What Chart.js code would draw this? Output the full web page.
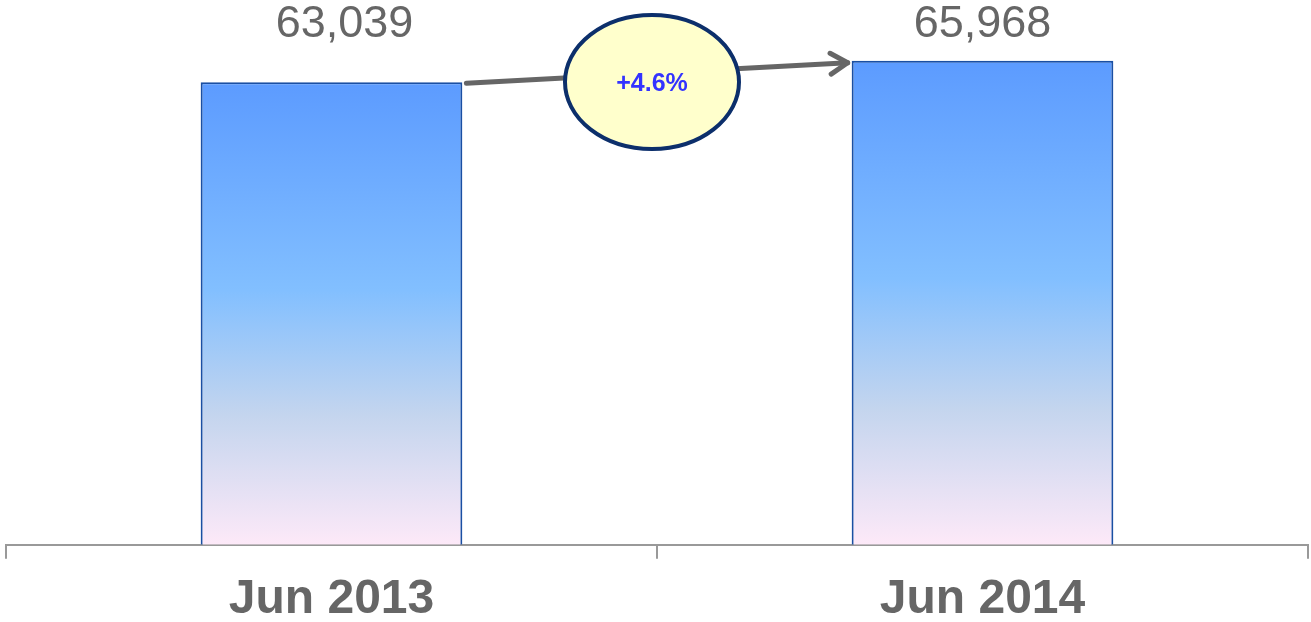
<!DOCTYPE html>
<html>
<head>
<meta charset="utf-8">
<script src="https://cdn.jsdelivr.net/npm/chart.js@4.4.0/dist/chart.umd.min.js"></script>
<style>
  html, body { margin: 0; padding: 0; background: #fff; }
  canvas { display: block; }
</style>
</head>
<body>
<canvas id="myBarChart" width="1311" height="622"></canvas>
<script>
// Headcount at the end of June, year on year
const periods = ['Jun 2013', 'Jun 2014'];
const totals = [63039, 65968];
const axisMax = 74250;

// Vertical fill for each bar, from its own top down to the baseline
function barGradient(context) {
    const chart = context.chart;
    const { ctx, chartArea, scales } = chart;
    if (!chartArea) return '#6aa8ff';
    const top = scales.y.getPixelForValue(context.raw);
    const bottom = scales.y.getPixelForValue(0);
    const g = ctx.createLinearGradient(0, top, 0, bottom);
    g.addColorStop(0, '#5c9bff');
    g.addColorStop(0.45, '#82bfff');
    g.addColorStop(0.72, '#c4d5ee');
    g.addColorStop(1, '#fde9f8');
    return g;
}

// Value text above the bars plus the growth arrow with its badge
const annotations = {
    id: 'annotations',
    afterDatasetsDraw(chart) {
        const ctx = chart.ctx;
        const bars = chart.getDatasetMeta(0).data;
        const top = chart.chartArea.top;

        ctx.save();
        ctx.fillStyle = '#666666';
        ctx.font = '45px "Liberation Sans", Arial, sans-serif';
        ctx.textAlign = 'center';
        ctx.textBaseline = 'alphabetic';
        bars.forEach((bar, i) => {
            const x = i === 0 ? bar.x + 13 : bar.x;
            ctx.fillText(totals[i].toLocaleString('en-US'), x, top + 37);
        });

        // arrow from the first bar's top to the second bar's top
        const a = bars[0], b = bars[1];
        const x1 = a.x + a.width / 2 + 4, y1 = a.y + 1;
        const x2 = b.x - b.width / 2 - 4, y2 = b.y + 2;
        ctx.strokeStyle = '#666666';
        ctx.lineWidth = 5;
        ctx.lineCap = 'round';
        ctx.lineJoin = 'round';
        ctx.beginPath();
        ctx.moveTo(x1, y1);
        ctx.lineTo(x2, y2);
        ctx.stroke();
        const ang = Math.atan2(y2 - y1, x2 - x1);
        const head = 20;
        ctx.beginPath();
        ctx.moveTo(x2 - head * Math.cos(ang - 0.55), y2 - head * Math.sin(ang - 0.55));
        ctx.lineTo(x2, y2);
        ctx.lineTo(x2 - head * Math.cos(ang + 0.55), y2 - head * Math.sin(ang + 0.55));
        ctx.stroke();

        // growth badge
        const cx = (chart.chartArea.left + chart.chartArea.right) / 2 - 5;
        const cy = top + 82;
        ctx.beginPath();
        ctx.ellipse(cx, cy, 87, 67, 0, 0, Math.PI * 2);
        ctx.fillStyle = '#ffffcc';
        ctx.fill();
        ctx.lineWidth = 4;
        ctx.strokeStyle = '#0c2f6b';
        ctx.stroke();

        const pct = (totals[1] - totals[0]) / totals[0] * 100;
        ctx.fillStyle = '#3333ff';
        ctx.font = 'bold 25px "Liberation Sans", Arial, sans-serif';
        ctx.textBaseline = 'middle';
        ctx.fillText((pct >= 0 ? '+' : '') + pct.toFixed(1) + '%', cx, cy + 2);
        ctx.restore();
    }
};

const ctx = document.getElementById('myBarChart');
const myBarChart = new Chart(ctx, {
    type: 'bar',
    data: {
        labels: periods,
        datasets: [{
            data: totals,
            backgroundColor: barGradient,
            borderColor: '#1a4fa3',
            borderWidth: 2,
            borderSkipped: 'bottom',
            categoryPercentage: 1,
            barPercentage: 0.402
        }]
    },
    options: {
        responsive: false,
        animation: false,
        layout: {
            padding: { left: 6, right: 3, top: 0, bottom: -18 }
        },
        scales: {
            x: {
                grid: {
                    display: true,
                    drawOnChartArea: false,
                    offset: true,
                    color: '#999999',
                    lineWidth: 2,
                    tickLength: 14
                },
                border: { display: true, color: '#999999', width: 2 },
                ticks: {
                    color: '#666666',
                    padding: 19,
                    font: { family: '"Liberation Sans", Arial, sans-serif', size: 48, weight: 'bold', lineHeight: 0.9 }
                }
            },
            y: {
                display: false,
                min: 0,
                max: axisMax
            }
        },
        plugins: {
            legend: { display: false },
            tooltip: { enabled: false }
        }
    },
    plugins: [annotations]
});
</script>
</body>
</html>
